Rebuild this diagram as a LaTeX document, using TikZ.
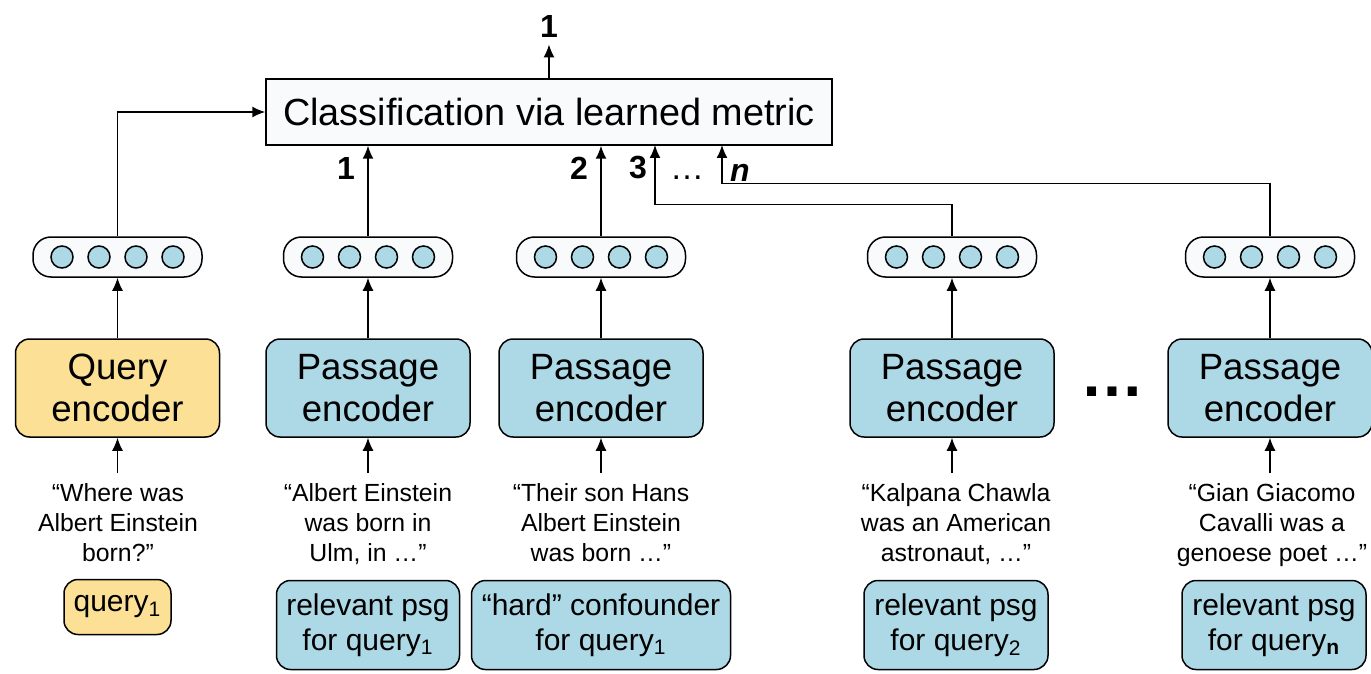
\documentclass[tikz,border=0pt]{standalone}
\usepackage{fontspec}
\setmainfont{Liberation Sans}
\usetikzlibrary{arrows.meta}
\definecolor{encblue}{RGB}{173,216,230}
\definecolor{encyellow}{RGB}{252,224,150}
\definecolor{vecfill}{RGB}{248,250,252}
\tikzset{
	encbox/.style={draw, rounded corners=7pt, minimum width=102pt, minimum height=49pt, inner sep=0pt, align=center, font=\fontsize{18.3}{21}\selectfont},
	vecbox/.style={draw, fill=vecfill, rounded corners=9pt, minimum width=84.5pt, minimum height=20pt, inner sep=0pt},
	unit/.style={draw, circle, fill=encblue, minimum size=11pt, inner sep=0pt},
	quotetext/.style={anchor=north, inner sep=5pt, align=center, font=\fontsize{12.4}{15}\selectfont},
	tagbox/.style={draw, fill=encblue, rounded corners=7pt, minimum height=44.5pt, inner sep=0pt, align=center, font=\fontsize{15}{17.5}\selectfont},
	num/.style={font=\fontsize{16}{16}\selectfont\bfseries},
	arr/.style={-{Latex[length=6.5pt,width=5.5pt]}}
}
\begin{document}
\begin{tikzpicture}[x=0.5pt, y=-0.5pt, line width=0.75pt]
	\useasboundingbox (0,0) rectangle (1371,674);
	\node[draw, fill=vecfill, minimum width=283pt, minimum height=33pt, inner sep=0pt, font=\fontsize{18.9}{20}\selectfont] (cls) at (549,112) {Classification via learned metric};
	\node[num] (top) at (549,26) {1};
	\draw[arr] (cls.north) -- (top.south);
	% encoders and vectors
	\foreach \c/\x/\clr/\txt in {1/117.5/encyellow/Query, 2/368/encblue/Passage, 3/601/encblue/Passage, 4/952/encblue/Passage, 5/1270/encblue/Passage}{
		\node[encbox, fill=\clr] (enc\c) at (\x,388) {\txt\\encoder};
		\node[vecbox] (vec\c) at (\x,257) {};
		\foreach \k/\d in {1/-55.5,2/-18.5,3/18.5,4/55.5}
			\node[unit] (u\c\k) at (\x+\d,257) {};
		\draw[arr] (enc\c.north) -- (vec\c.south);
	}
	\node[font=\fontsize{32}{32}\selectfont\bfseries] (dots) at (1112,392) {…};
	%
	% texts
	%
	\node[quotetext] (q1) at (118,473) {“Where was\\Albert Einstein\\born?”};
	\node[quotetext] (q2) at (368,473) {“Albert Einstein\\was born in\\Ulm, in …”};
	\node[quotetext] (q3) at (601,473) {“Their son Hans\\Albert Einstein\\was born …”};
	\node[quotetext] (q4) at (956,473) {“Kalpana Chawla\\was an American\\astronaut, …”};
	\node[quotetext] (q5) at (1272,473) {“Gian Giacomo\\Cavalli was a\\genoese poet …”};
	\foreach \c in {1,...,5}
		\draw[arr] (enc\c.south |- q\c.north) -- (enc\c.south);
	\node[tagbox, fill=encyellow, minimum width=53.5pt, minimum height=27.5pt] (t1) at (117.5,607) {query\textsubscript{1}};
	\node[tagbox, minimum width=91.5pt] (t2) at (368,625) {relevant psg\\for query\textsubscript{1}};
	\node[tagbox, minimum width=129.5pt] (t3) at (601,625) {“hard” confounder\\for query\textsubscript{1}};
	\node[tagbox, minimum width=92pt] (t4) at (956,625) {relevant psg\\for query\textsubscript{2}};
	\node[tagbox, minimum width=92pt] (t5) at (1274,625) {relevant psg\\for query\textsubscript{\textbf{n}}};
	%
	% into the metric
	%
	\coordinate (in3) at (655,145);
	\coordinate (inn) at (722,145);
	\draw[arr] (vec1.north) |- (cls.west);
	\draw[arr] (vec2.north) -- (vec2.north |- cls.south);
	\draw[arr] (vec3.north) -- (vec3.north |- cls.south);
	\draw[arr] (vec4.north) -- ++(0,-32) -| (in3);
	\draw[arr] (vec5.north) -- ++(0,-53) -| (inn);
	\node[num] (l1) at (346,168) {1};
	\node[num] (l2) at (579,168) {2};
	\node[num] (l3) at (638,168) {3};
	\node[num, font=\fontsize{16}{16}\selectfont\bfseries\itshape] (ln) at (740,173) {n};
	\node[font=\fontsize{17}{17}\selectfont] (more) at (687,178) {…};
\end{tikzpicture}
\end{document}
